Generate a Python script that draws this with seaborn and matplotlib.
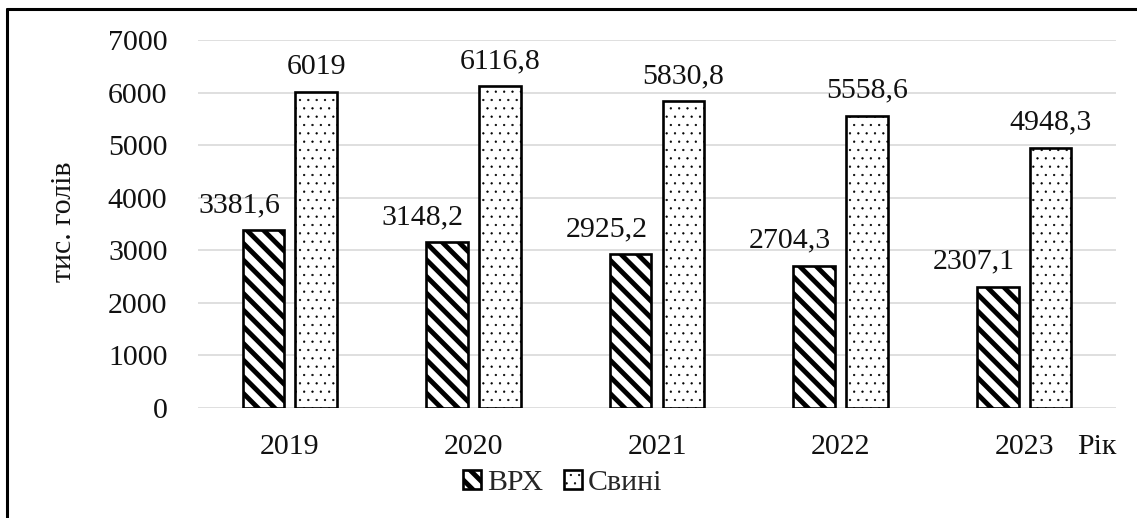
import matplotlib
matplotlib.use("Agg")
import matplotlib.pyplot as plt
import seaborn as sns
import pandas as pd
from matplotlib.patches import Patch
from matplotlib.lines import Line2D

years = ["2019", "2020", "2021", "2022", "2023"]
series_names = ["ВРХ", "Свині"]
vrh = [3381.6, 3148.2, 2925.2, 2704.3, 2307.1]
svyni = [6019, 6116.8, 5830.8, 5558.6, 4948.3]
y_ticks = [0, 1000, 2000, 3000, 4000, 5000, 6000, 7000]
y_label = "тис. голів"
x_label = "Рік"

df = pd.DataFrame({
    "year": years * 2,
    "series": [series_names[0]] * len(years) + [series_names[1]] * len(years),
    "value": vrh + svyni,
})

sns.set_theme(style="white")
plt.rcParams["font.family"] = ["Liberation Serif", "DejaVu Serif"]
plt.rcParams["hatch.linewidth"] = 3.5
plt.rcParams["hatch.color"] = "black"

W, H = 1137, 518
fig = plt.figure(figsize=(W / 100, H / 100), dpi=100)
ax = fig.add_axes([198 / W, 1 - 408 / H, (1116 - 198) / W, (408 - 40) / H])

sns.barplot(data=df, x="year", y="value", hue="series", order=years,
            hue_order=series_names, width=0.575, gap=0.21,
            palette=["white", "white"], edgecolor="black", linewidth=1.9,
            ax=ax, legend=False)

hatches = ["\\\\", ".."]
hatch_lw = [3.5, 0.4]
fs = 21.5


def set_hlw(p, lw):
    if hasattr(p, "set_hatch_linewidth"):
        p.set_hatch_linewidth(lw)


for ci, cont in enumerate(ax.containers):
    for bar, v in zip(cont, [vrh, svyni][ci]):
        bar.set_hatch(hatches[ci])
        set_hlw(bar, hatch_lw[ci])
        bar.set_edgecolor("black")
        txt = f"{v:g}".replace(".", ",")
        top = bar.get_height()
        if ci == 0:
            xr = bar.get_x() + bar.get_width()
            ax.annotate(txt, (xr, top), xytext=(-3, 13), textcoords="offset points",
                        ha="right", va="baseline", fontsize=fs, color="#111111")
        else:
            xc = bar.get_x() + bar.get_width() / 2
            ax.annotate(txt, (xc, top), xytext=(0, 13), textcoords="offset points",
                        ha="center", va="baseline", fontsize=fs, color="#111111")

ax.set_ylim(0, 7000)
ax.set_xlim(-0.5, len(years) - 0.5)
ax.set_yticks(y_ticks)
ax.set_yticklabels([str(t) for t in y_ticks])
ax.yaxis.grid(True, color="#d9d9d9", linewidth=1.2)
ax.set_axisbelow(True)
for s in ax.spines.values():
    s.set_visible(False)
ax.tick_params(axis="y", length=0, pad=22, labelsize=fs, colors="#111111")
ax.tick_params(axis="x", length=0, pad=19, labelsize=fs, colors="#111111")
ax.set_xlabel("")
ax.set_ylabel("")

fig.text(64 / W, 1 - 222 / H, y_label, rotation=90, ha="center", va="center",
         fontsize=fs, color="#111111")
fig.text(1116 / W, 1 - 434 / H, x_label, ha="right", va="top", fontsize=fs,
         color="#111111")

handles = [Patch(facecolor="white", edgecolor="black", hatch=hatches[i], linewidth=1.9)
           for i in range(2)]
leg = fig.legend(handles, series_names, loc="center", bbox_to_anchor=(563 / W, 1 - 483 / H),
                 ncol=2, frameon=False, fontsize=fs, handlelength=0.6, handleheight=0.6,
                 handletextpad=0.2, columnspacing=0.7)
for i, h in enumerate(leg.legend_handles):
    set_hlw(h, hatch_lw[i])

# page frame lines (top and left)
fig.add_artist(Line2D([7 / W, 1.0], [1 - 9 / H, 1 - 9 / H], color="black", linewidth=2.2,
                      transform=fig.transFigure))
fig.add_artist(Line2D([7 / W, 7 / W], [0, 1 - 9 / H], color="black", linewidth=2.2,
                      transform=fig.transFigure))

fig.savefig("out.png", dpi=100)
